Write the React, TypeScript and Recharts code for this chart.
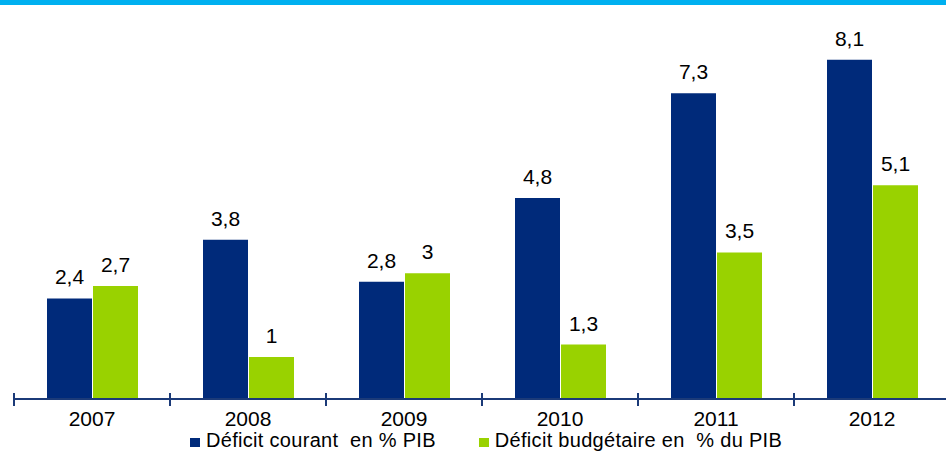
import { BarChart, Bar, XAxis, YAxis, LabelList, Legend } from 'recharts';

const years = ['2007', '2008', '2009', '2010', '2011', '2012'];
const deficitCourant = [2.4, 3.8, 2.8, 4.8, 7.3, 8.1];
const deficitBudgetaire = [2.7, 1, 3, 1.3, 3.5, 5.1];

const data = years.map((year, i) => ({
  year,
  courant: deficitCourant[i],
  budget: deficitBudgetaire[i],
}));

const NAVY = '#002A7A';
const GREEN = '#99D200';
const AXIS = '#1B3A78';
const FONT = '"Liberation Sans", Arial, sans-serif';

const CHART_W = 950;
const LEFT = 14;
const band = (CHART_W - LEFT) / years.length;

function BandTick(props: any) {
  const { x, y, payload } = props;
  const left = x - band / 2;
  return (
    <g>
      <line x1={left} x2={left} y1={y - 6} y2={y + 7} stroke={AXIS} strokeWidth={2} />
      <text x={x} y={y + 27} textAnchor="middle" fontSize={21} fill="#000" fontFamily={FONT}>
        {payload.value}
      </text>
    </g>
  );
}

function LegendBox() {
  const item = (color: string, label: string) => (
    <span style={{ display: 'inline-block', marginRight: 43, verticalAlign: 'top' }}>
      <span style={{ width: 10, height: 9, background: color, display: 'inline-block', marginRight: 6, verticalAlign: 'baseline' }} />
      <span style={{ whiteSpace: 'pre' }}>{label}</span>
    </span>
  );
  return (
    <div
      style={{
        fontFamily: FONT,
        fontSize: 20,
        letterSpacing: 0.3,
        color: '#000',
        lineHeight: '20px',
        height: 22,
        boxSizing: 'border-box',
        paddingBottom: 2,
        paddingLeft: 190 - LEFT,
        textAlign: 'left',
        whiteSpace: 'nowrap',
      }}
    >
      {item(NAVY, 'Déficit courant  en % PIB')}
      {item(GREEN, 'Déficit budgétaire en  % du PIB')}
    </div>
  );
}

export default function App() {
  return (
    <div style={{ position: 'absolute', left: 0, top: 0, width: 946, height: 452, overflow: 'hidden', background: '#fff' }}>
      <div style={{ position: 'absolute', left: 0, top: 0, width: 946, height: 5, background: '#00B0F0' }} />
      <BarChart
        width={CHART_W}
        height={452}
        data={data}
        margin={{ top: 22, right: 0, left: LEFT, bottom: 0 }}
        barSize={45}
        barGap={1}
      >
        <XAxis
          dataKey="year"
          axisLine={{ stroke: AXIS, strokeWidth: 2 }}
          tickLine={false}
          tickSize={0}
          tickMargin={0}
          height={31}
          tick={<BandTick />}
          interval={0}
        />
        <YAxis hide domain={[0, 9]} />
        <Legend verticalAlign="bottom" height={22} content={<LegendBox />} />
        <Bar dataKey="courant" fill={NAVY} isAnimationActive={false}>
          <LabelList
            dataKey="courant"
            position="top"
            offset={14}
            fontSize={21}
            fill="#000"
            fontFamily={FONT}
            formatter={(v: any) => String(v).replace('.', ',')}
          />
        </Bar>
        <Bar dataKey="budget" fill={GREEN} isAnimationActive={false}>
          <LabelList
            dataKey="budget"
            position="top"
            offset={14}
            fontSize={21}
            fill="#000"
            fontFamily={FONT}
            formatter={(v: any) => String(v).replace('.', ',')}
          />
        </Bar>
      </BarChart>
    </div>
  );
}
